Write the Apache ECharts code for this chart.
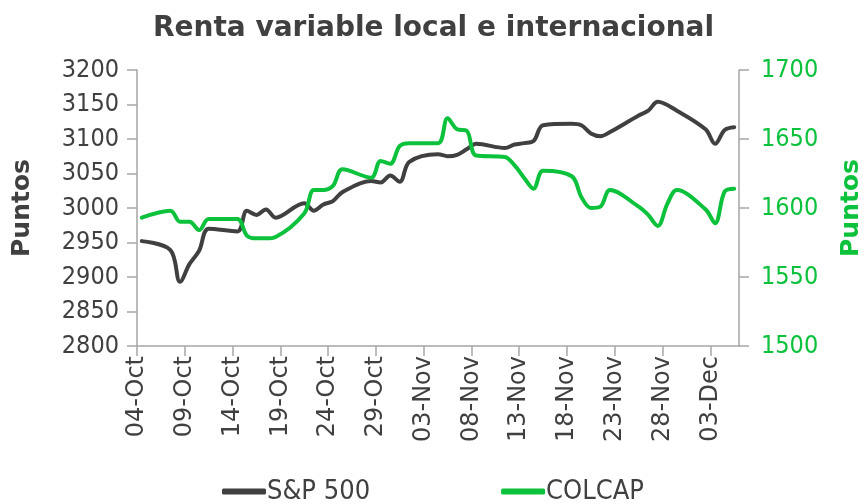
<!DOCTYPE html>
<html>
<head>
<meta charset="utf-8">
<script src="https://cdn.jsdelivr.net/npm/echarts@6/dist/echarts.min.js"></script>
<style>
html,body{margin:0;padding:0;background:#fff;}
#c{width:867px;height:504px;}
</style>
</head>
<body>
<div id="c"></div>
<script>
// Trading dates (weekdays) shown on the chart
const dates = ['2019-10-04','2019-10-07','2019-10-08','2019-10-09','2019-10-10','2019-10-11',
  '2019-10-14','2019-10-15','2019-10-16','2019-10-17','2019-10-18',
  '2019-10-21','2019-10-22','2019-10-23','2019-10-24','2019-10-25',
  '2019-10-28','2019-10-29','2019-10-30','2019-10-31','2019-11-01',
  '2019-11-04','2019-11-05','2019-11-06','2019-11-07','2019-11-08',
  '2019-11-11','2019-11-12','2019-11-13','2019-11-14','2019-11-15',
  '2019-11-18','2019-11-19','2019-11-20','2019-11-21','2019-11-22',
  '2019-11-25','2019-11-26','2019-11-27','2019-11-28','2019-11-29',
  '2019-12-02','2019-12-03','2019-12-04','2019-12-05'];

const sp500 = [2952,2939,2893,2919,2938,2970,
  2966,2996,2990,2998,2986,
  3007,2996,3005,3010,3023,
  3039,3037,3047,3038,3067,
  3078,3075,3077,3085,3093,
  3087,3092,3094,3097,3120,
  3122,3120,3108,3104,3110,
  3134,3141,3154,null,3141,
  3114,3093,3113,3117];

const colcap = [1593,1598,1590,1590,1584,1592,
  1592,1580,1578,1578,1579,
  1596,1613,1613,1616,1628,
  1622,1634,1632,1645,1647,
  1647,1665,1657,1656,1638,
  1637,1631,1622,1614,1627,
  1623,1608,1600,1601,1613,
  1601,1595,1587,1603,1613,
  1599,1589,1612,1614];

const tickLabels = ['04-Oct','09-Oct','14-Oct','19-Oct','24-Oct','29-Oct','03-Nov',
  '08-Nov','13-Nov','18-Nov','23-Nov','28-Nov','03-Dec'];

const title = 'Renta variable local e internacional';
const seriesNames = ['S&P 500','COLCAP'];
const axisName = 'Puntos';

const base = Date.UTC(2019, 9, 4);
function dayPos(s){
  const p = s.split('-').map(Number);
  return (Date.UTC(p[0], p[1]-1, p[2]) - base) / 86400000 + 0.5;
}
function pairs(vals){
  const out = [];
  dates.forEach((d,i)=>{ if(vals[i] != null) out.push([dayPos(d), vals[i]]); });
  return out;
}

const DARK = '#404040';
const GREEN = '#0cc13b';
const AXIS = '#a6a6a6';
const FONT_N = 'DejaVu Sans Condensed, DejaVu Sans, sans-serif';
const FONT_W = 'DejaVu Sans, sans-serif';

const chart = echarts.init(document.getElementById('c'), null, {renderer:'canvas'});
chart.setOption({
  animation: false,
  backgroundColor: '#fff',
  title: {
    text: title, left: 'center', top: 10,
    textStyle: {fontFamily: FONT_W, fontWeight: 'bold', fontSize: 28, color: DARK}
  },
  legend: {
    left: 222, top: 478, padding: 0,
    itemWidth: 44, itemHeight: 6, itemGap: 131,
    icon: 'roundRect',
    textStyle: {fontFamily: FONT_N, fontSize: 27, color: DARK, padding:[0,0,0,-4]},
    data: seriesNames
  },
  grid: {left: 137, right: 128, top: 70, bottom: 158, containLabel: false, outerBoundsMode: 'none'},
  xAxis: {
    type: 'value', min: 0, max: 63, interval: 5,
    axisLine: {lineStyle: {color: AXIS, width: 1.5}},
    axisTick: {show: true, length: 10, lineStyle: {color: AXIS, width: 1.5}},
    splitLine: {show: false},
    axisLabel: {
      rotate: 90, margin: 10, fontFamily: FONT_W, fontSize: 24, color: DARK,
      showMaxLabel: false,
      formatter: v => (v % 5 === 0 && tickLabels[v/5]) ? tickLabels[v/5] : ''
    }
  },
  yAxis: [{
    type: 'value', min: 2800, max: 3200, interval: 50, position: 'left',
    name: axisName, nameLocation: 'middle', nameGap: 102,
    nameTextStyle: {fontFamily: FONT_W, fontWeight: 'bold', fontSize: 25, color: DARK},
    axisLine: {show: true, lineStyle: {color: AXIS, width: 1.5}},
    axisTick: {show: true, length: 10, lineStyle: {color: AXIS, width: 1.5}},
    splitLine: {show: false},
    axisLabel: {fontFamily: FONT_N, fontSize: 25, color: DARK, margin: 18, formatter: v => String(v)}
  },{
    type: 'value', min: 1500, max: 1700, interval: 50, position: 'right',
    name: axisName, nameLocation: 'middle', nameGap: 100,
    nameTextStyle: {fontFamily: FONT_W, fontWeight: 'bold', fontSize: 25, color: GREEN},
    axisLine: {show: true, lineStyle: {color: AXIS, width: 1.5}},
    axisTick: {show: true, length: 10, lineStyle: {color: AXIS, width: 1.5}},
    splitLine: {show: false},
    axisLabel: {fontFamily: FONT_N, fontSize: 25, color: GREEN, margin: 22, formatter: v => String(v)}
  }],
  series: [{
    name: seriesNames[0], type: 'line', yAxisIndex: 0,
    data: pairs(sp500), showSymbol: false, symbol: 'none', smooth: 0.35, connectNulls: true,
    lineStyle: {color: DARK, width: 4, cap: 'round', join: 'round'},
    itemStyle: {color: DARK}
  },{
    name: seriesNames[1], type: 'line', yAxisIndex: 1,
    data: pairs(colcap), showSymbol: false, symbol: 'none', smooth: 0.35, connectNulls: true,
    lineStyle: {color: GREEN, width: 4, cap: 'round', join: 'round'},
    itemStyle: {color: GREEN}
  }]
});
</script>
</body>
</html>
